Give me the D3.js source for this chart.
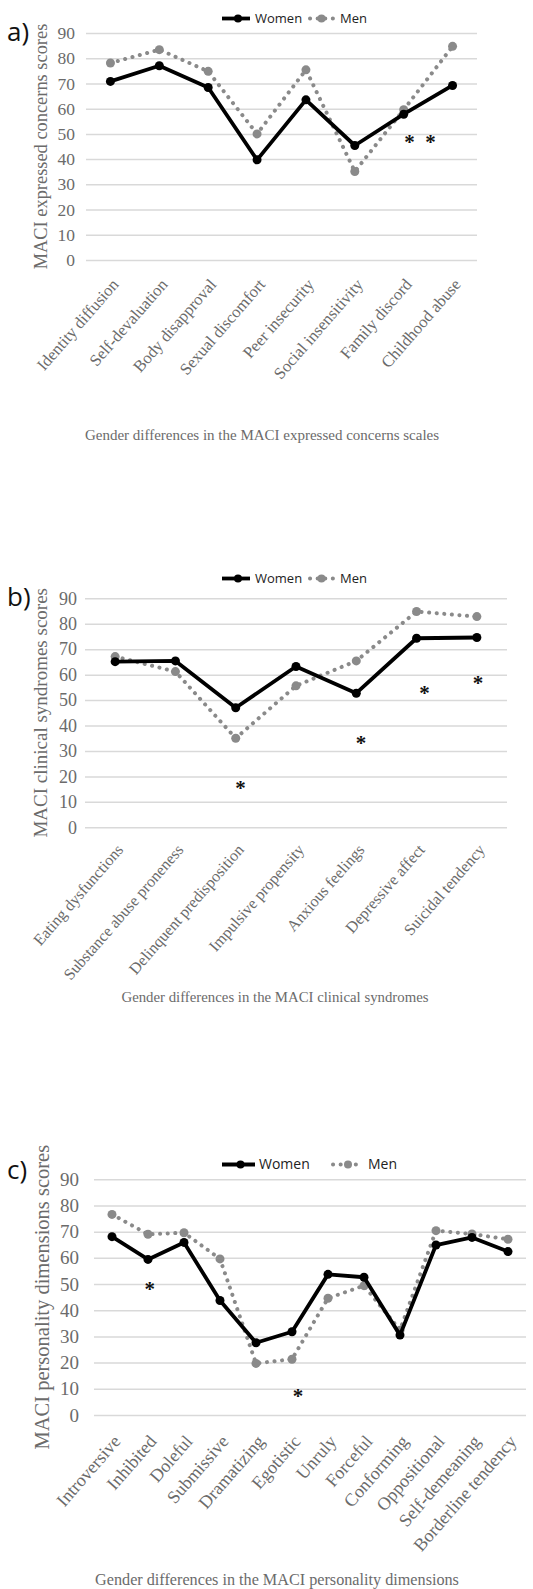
<!DOCTYPE html>
<html>
<head>
<meta charset="utf-8">
<script src="https://cdn.jsdelivr.net/npm/d3@7"></script>
<style>
  body { margin: 0; background: #fff; }
  svg { display: block; }
</style>
</head>
<body>
<svg id="chart" width="533" height="1589"></svg>
<script>
// score axis used by all three panels
var scoreTicks = [0, 10, 20, 30, 40, 50, 60, 70, 80, 90];

// a) expressed concerns
var concernLabels = ["Identity diffusion", "Self-devaluation", "Body disapproval", "Sexual discomfort",
  "Peer insecurity", "Social insensitivity", "Family discord", "Childhood abuse"];
var concernWomen = [70.8, 77.0, 68.4, 39.7, 63.5, 45.4, 57.8, 69.2];
var concernMen   = [78.1, 83.4, 74.8, 50.0, 75.4, 35.1, 59.6, 84.7];
// asterisks: [category index (fractional), score]
var concernStars = [[6.12, 48], [6.55, 48]];

// b) clinical syndromes
var syndromeLabels = ["Eating dysfunctions", "Substance abuse proneness", "Delinquent predisposition",
  "Impulsive propensity", "Anxious feelings", "Depressive affect", "Suicidal tendency"];
var syndromeWomen = [65.1, 65.4, 47.0, 63.2, 52.7, 74.3, 74.6];
var syndromeMen   = [67.1, 61.2, 35.0, 55.6, 65.4, 84.8, 82.8];
var syndromeStars = [[2.08, 16.6], [4.08, 34.3], [5.13, 54], [6.02, 57.7]];

// c) personality dimensions
var personalityLabels = ["Introversive", "Inhibited", "Doleful", "Submissive", "Dramatizing", "Egotistic",
  "Unruly", "Forceful", "Conforming", "Oppositional", "Self-demeaning", "Borderline tendency"];
var personalityWomen = [68.1, 59.4, 65.9, 43.7, 27.6, 31.8, 53.7, 52.6, 30.5, 64.9, 67.8, 62.4];
var personalityMen   = [76.6, 69.0, 69.6, 59.6, 19.7, 21.3, 44.6, 49.4, 32.4, 70.4, 69.1, 67.1];
var personalityStars = [[1.05, 49.3], [5.17, 8.5]];

var series = ["Women", "Men"];

// layout of each panel (pixels)
var panels = [
  {tag: "a)", labels: concernLabels, women: concernWomen, men: concernMen, stars: concernStars,
   yTitle: "MACI expressed concerns scores",
   caption: "Gender differences in the MACI expressed concerns scales",
   left: 86, right: 477, top: 33, bottom: 260, tickPad: 11, tickSize: 17.5, yTitleSize: 18.4, yTitleX: 47,
   labelSize: 16.5, labelDx: 8.5, labelDy: 25, capSize: 15, capX: 262, capY: 440,
   tagY: 41, legY: 23, legSize: 13, leg: [222, 250, 255, 310, 333, 340]},
  {tag: "b)", labels: syndromeLabels, women: syndromeWomen, men: syndromeMen, stars: syndromeStars,
   yTitle: "MACI clinical syndromes scores",
   caption: "Gender differences in the MACI clinical syndromes",
   left: 85, right: 507, top: 598.3, bottom: 827.3, tickPad: 8, tickSize: 18, yTitleSize: 19, yTitleX: 47,
   labelSize: 16, labelDx: 8.5, labelDy: 23, capSize: 14.8, capX: 275, capY: 1002,
   tagY: 606, legY: 583, legSize: 13, leg: [222, 250, 255, 310, 333, 340]},
  {tag: "c)", labels: personalityLabels, women: personalityWomen, men: personalityMen, stars: personalityStars,
   yTitle: "MACI personality dimensions scores",
   caption: "Gender differences in the MACI personality dimensions",
   left: 94, right: 526, top: 1179.3, bottom: 1415, tickPad: 15, tickSize: 19, yTitleSize: 20.5, yTitleX: 49,
   labelSize: 18, labelDx: 9, labelDy: 27, capSize: 16.2, capX: 277, capY: 1585,
   tagY: 1179, legY: 1169, legSize: 14, leg: [222, 255, 259, 333, 363, 368]}
];

var svg = d3.select("#chart");
var grey = "#6b6b6b", menColor = "#8a8a8a";
var serif = "'Liberation Serif', 'DejaVu Serif', serif";
var sans = "'Open Sans', 'Noto Sans', sans-serif";

panels.forEach(function(p) {
  var g = svg.append("g");

  var x = d3.scalePoint().domain(p.labels).range([p.left, p.right]).padding(0.5);
  var y = d3.scaleLinear().domain([0, 90]).range([p.bottom, p.top]);
  var xAt = function(i) { return x(p.labels[0]) + i * x.step(); };

  // grid + y tick labels
  var yAxis = g.append("g")
    .attr("transform", "translate(" + p.left + ",0)")
    .call(d3.axisLeft(y).tickValues(scoreTicks).tickSize(-(p.right - p.left)).tickPadding(p.tickPad));
  yAxis.select(".domain").remove();
  yAxis.selectAll(".tick line").attr("stroke", "#d9d9d9").attr("stroke-width", 1.5);
  yAxis.selectAll(".tick text").attr("fill", grey).style("font-family", serif).style("font-size", p.tickSize + "px");

  // category labels
  var xAxis = g.append("g")
    .attr("transform", "translate(0," + p.bottom + ")")
    .call(d3.axisBottom(x).tickSize(0));
  xAxis.select(".domain").remove();
  xAxis.selectAll(".tick text")
    .attr("y", 0).attr("dy", 0)
    .attr("transform", "translate(" + p.labelDx + "," + p.labelDy + ") rotate(-49)")
    .attr("text-anchor", "end")
    .attr("fill", grey).style("font-family", serif).style("font-size", p.labelSize + "px");

  // y title
  g.append("text")
    .attr("transform", "translate(" + p.yTitleX + "," + ((p.top + p.bottom) / 2) + ") rotate(-90)")
    .attr("text-anchor", "middle")
    .attr("fill", grey).style("font-family", serif).style("font-size", p.yTitleSize + "px")
    .text(p.yTitle);

  // panel tag
  g.append("text").attr("x", 7).attr("y", p.tagY)
    .style("font-family", sans).style("font-size", "26px").attr("fill", "#111")
    .text(p.tag);

  // caption
  g.append("text").attr("x", p.capX).attr("y", p.capY).attr("text-anchor", "middle")
    .attr("fill", grey).style("font-family", serif).style("font-size", p.capSize + "px")
    .text(p.caption);

  var line = d3.line()
    .x(function(d, i) { return x(p.labels[i]); })
    .y(function(d) { return y(d); });

  // men: dotted grey
  g.append("path").datum(p.men)
    .attr("d", line).attr("fill", "none").attr("stroke", menColor)
    .attr("stroke-width", 4).attr("stroke-linecap", "round").attr("stroke-dasharray", "0.1 7.5");
  g.selectAll(".men-dot").data(p.men).enter().append("circle")
    .attr("cx", function(d, i) { return x(p.labels[i]); })
    .attr("cy", function(d) { return y(d); })
    .attr("r", 4.5).attr("fill", menColor);

  // women: solid black
  g.append("path").datum(p.women)
    .attr("d", line).attr("fill", "none").attr("stroke", "#000")
    .attr("stroke-width", 3.8).attr("stroke-linejoin", "round");
  g.selectAll(".women-dot").data(p.women).enter().append("circle")
    .attr("cx", function(d, i) { return x(p.labels[i]); })
    .attr("cy", function(d) { return y(d); })
    .attr("r", 4.5).attr("fill", "#000");

  // significance asterisks
  g.selectAll(".star").data(p.stars).enter().append("text")
    .attr("x", function(d) { return xAt(d[0]); })
    .attr("y", function(d) { return y(d[1]) + 10; })
    .attr("text-anchor", "middle")
    .style("font-family", serif).style("font-size", "21px").style("font-weight", "bold").attr("fill", "#111")
    .text("*");

  // legend
  var L = p.leg, ly = p.legY - 4.5;
  g.append("line").attr("x1", L[0]).attr("x2", L[1]).attr("y1", ly).attr("y2", ly)
    .attr("stroke", "#000").attr("stroke-width", 3.8);
  g.append("circle").attr("cx", (L[0] + L[1]) / 2 + 2).attr("cy", ly).attr("r", 4).attr("fill", "#000");
  g.append("line").attr("x1", L[3]).attr("x2", L[4]).attr("y1", ly).attr("y2", ly)
    .attr("stroke", menColor).attr("stroke-width", 4).attr("stroke-linecap", "round").attr("stroke-dasharray", "0.1 7.5");
  g.append("circle").attr("cx", (L[3] + L[4]) / 2).attr("cy", ly).attr("r", 4).attr("fill", menColor);
  g.append("text").attr("x", L[2]).attr("y", p.legY)
    .style("font-family", sans).style("font-size", p.legSize + "px").attr("fill", "#222").text(series[0]);
  g.append("text").attr("x", L[5]).attr("y", p.legY)
    .style("font-family", sans).style("font-size", p.legSize + "px").attr("fill", "#222").text(series[1]);
});
</script>
</body>
</html>
